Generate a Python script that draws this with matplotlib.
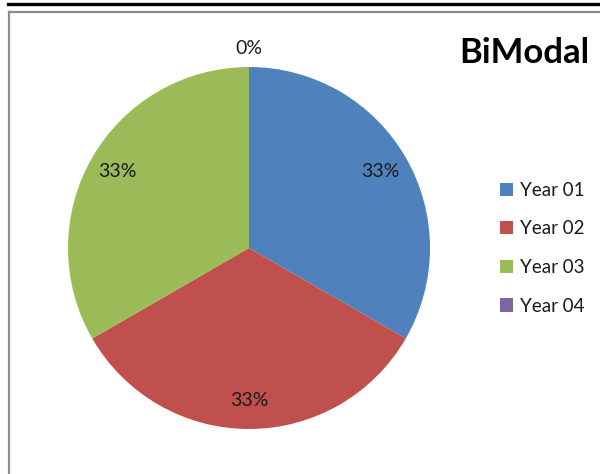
import matplotlib
matplotlib.use("Agg")
import matplotlib.pyplot as plt
from matplotlib.lines import Line2D
import numpy as np

labels = ["Year 01", "Year 02", "Year 03", "Year 04"]
values = [1, 1, 1, 0]
colors = ["#4F81BD", "#C0504D", "#9BBB59", "#8064A2"]
title = "BiModal"

plt.rcParams['font.family'] = ['Lato', 'DejaVu Sans']

W, H = 600, 474
fig = plt.figure(figsize=(W / 100, H / 100), dpi=100)

# pie axes: centre (249, 248) px, radius 181 px
cx, cy, r = 249, 248, 181
ax = fig.add_axes([(cx - r) / W, (H - cy - r) / H, 2 * r / W, 2 * r / H])
wedges, texts, autotexts = ax.pie(values, colors=colors, startangle=90,
                                  counterclock=False, autopct='%1.0f%%',
                                  pctdistance=0.84,
                                  textprops={'fontsize': 14, 'color': '#1a1a1a'})
ax.set_xlim(-1, 1)
ax.set_ylim(-1, 1)
ax.axis('off')

# zero-sized slice: label sits outside the pie
for w, t, v in zip(wedges, autotexts, values):
    if v == 0:
        ang = np.deg2rad((w.theta1 + w.theta2) / 2)
        t.set_position((1.1 * np.cos(ang), 1.1 * np.sin(ang)))

fig.text(524 / W, 1 - 53 / H, title, fontsize=25, fontweight='bold',
         ha='center', va='center', color='#000000')

leg = fig.legend(wedges, labels, loc='upper left', bbox_to_anchor=(483 / W, 1 - 165 / H),
                 frameon=False, fontsize=13.5, handlelength=0.7, handleheight=0.7,
                 handletextpad=0.4, labelspacing=1.15, labelcolor='#1a1a1a')

# frame lines
fig.add_artist(Line2D([8 / W, 1], [1 - 4 / H, 1 - 4 / H], color='black', lw=2.4,
                      transform=fig.transFigure))
fig.add_artist(Line2D([9 / W, 1], [1 - 12 / H, 1 - 12 / H], color='#8c8c8c', lw=1.6,
                      transform=fig.transFigure))
fig.add_artist(Line2D([9 / W, 9 / W], [1 - 12 / H, 0], color='#8c8c8c', lw=1.6,
                      transform=fig.transFigure))

fig.savefig("out.png", dpi=100, facecolor='white')
